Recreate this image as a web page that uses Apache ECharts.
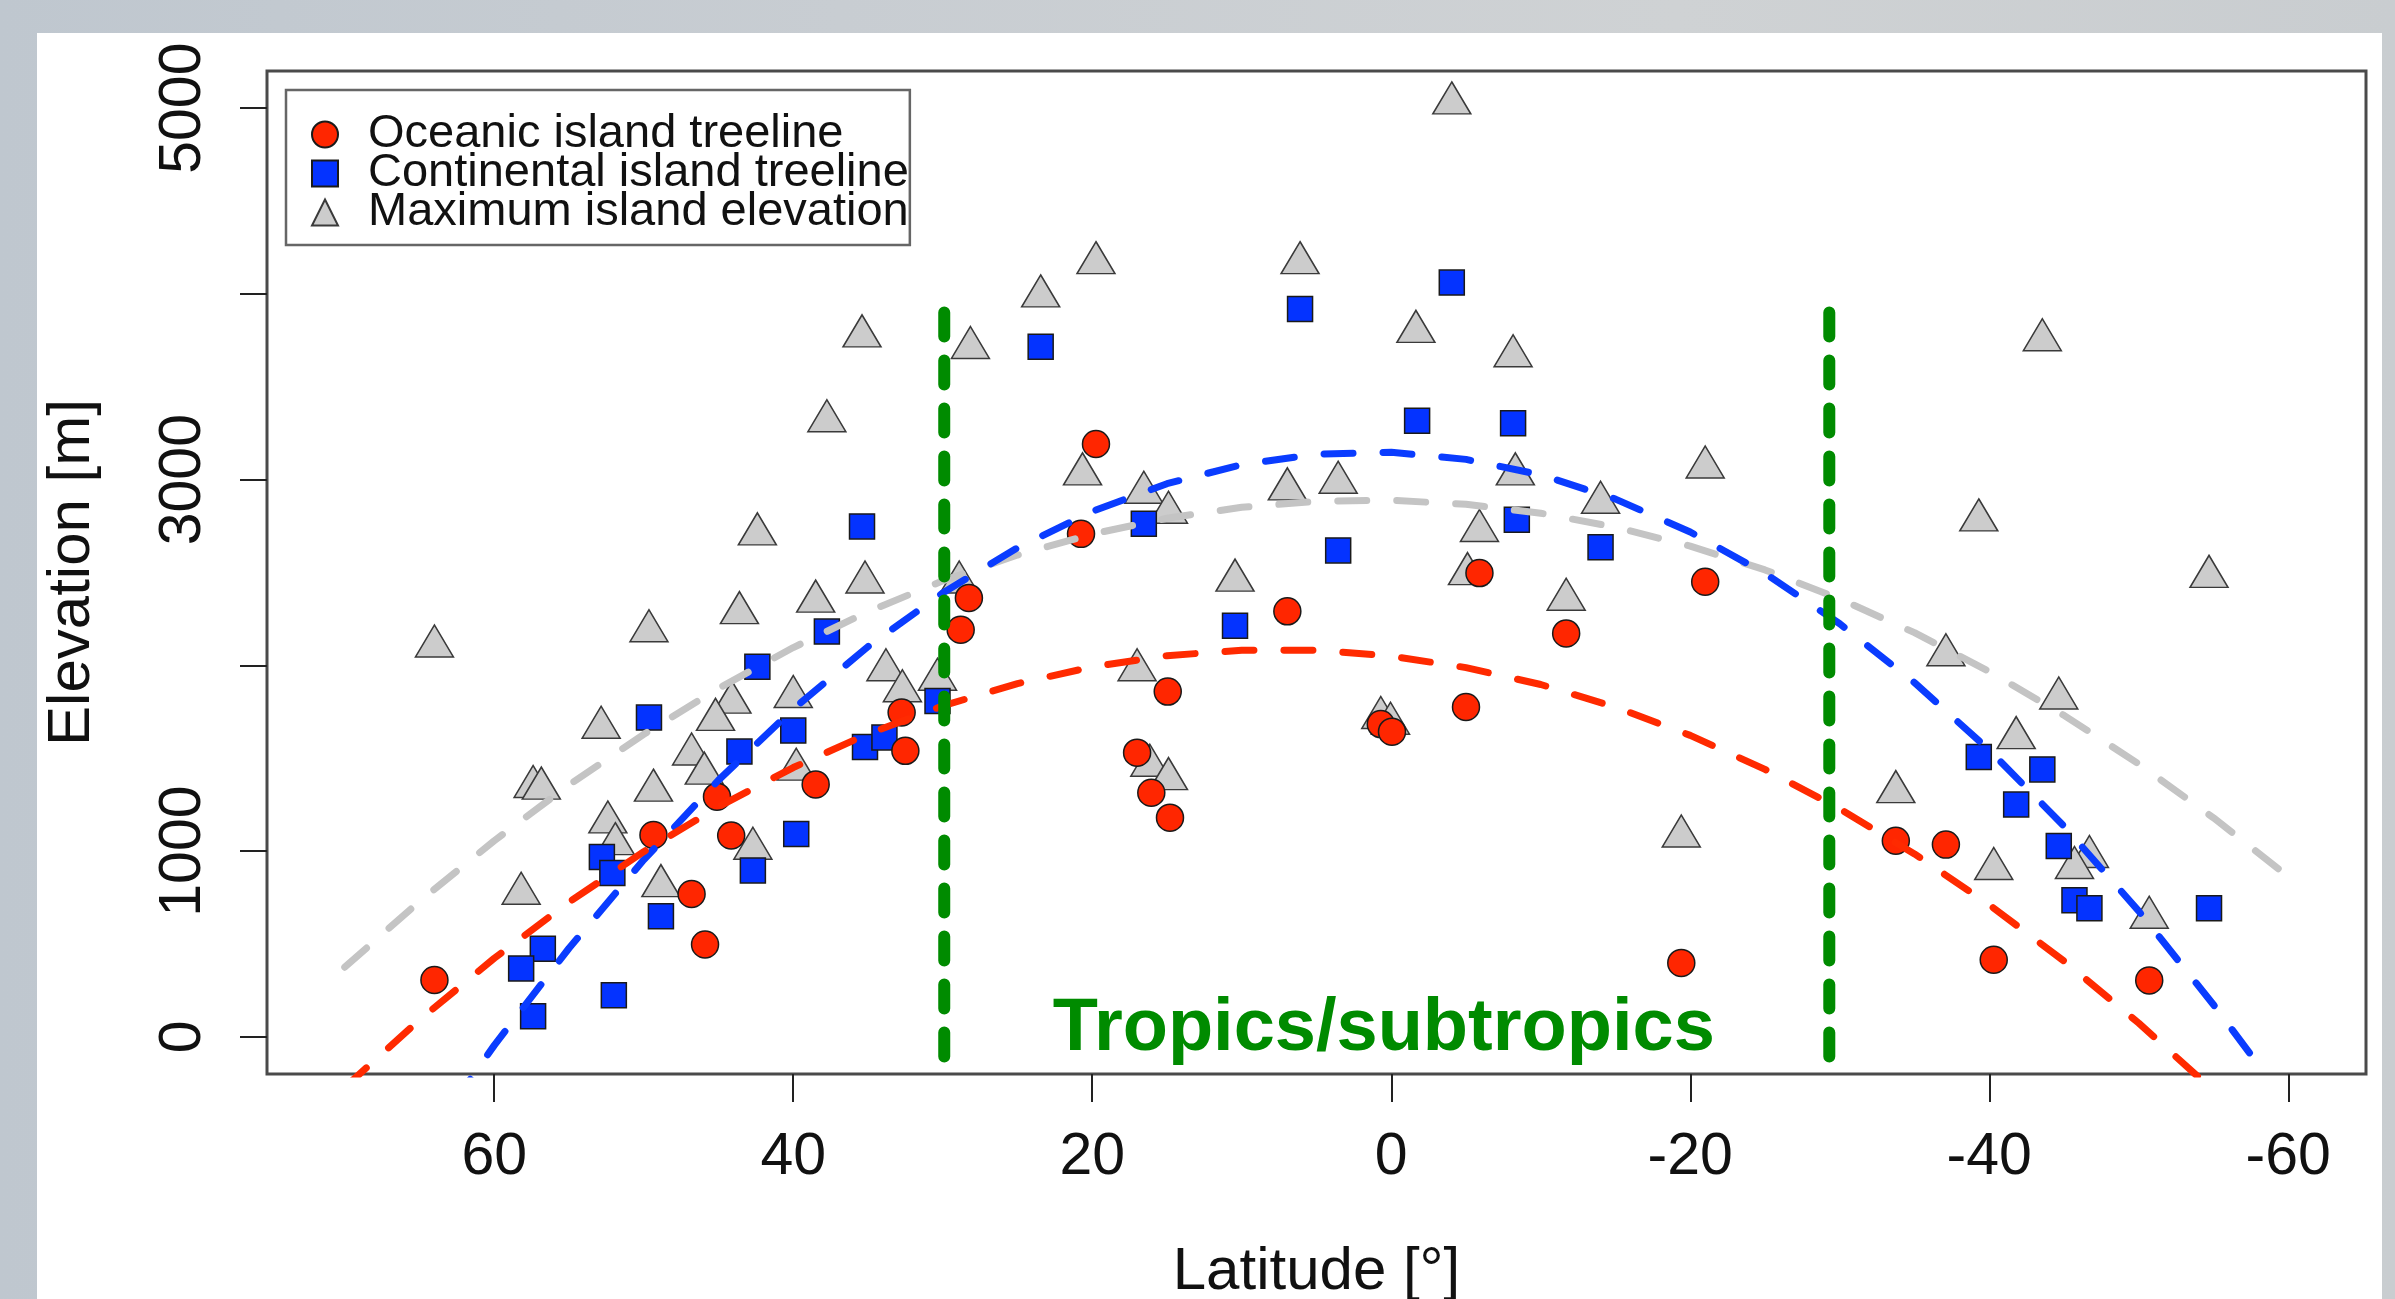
<!DOCTYPE html>
<html>
<head>
<meta charset="utf-8">
<title>Treeline elevation vs latitude</title>
<script src="https://cdn.jsdelivr.net/npm/echarts@6.0.0/dist/echarts.min.js"></script>
<style>
    html, body { margin: 0; padding: 0; width: 2395px; height: 1299px; overflow: hidden; }
    body { background: linear-gradient(to right, #bfc7cf 0%, #c8cdd2 35%, #cfd2d4 70%, #c9cdd0 100%); }
    #panel { position: absolute; left: 37px; top: 33px; width: 2345px; height: 1266px; background: #fff; }
    #main { position: absolute; left: 0; top: 0; width: 2395px; height: 1299px; }
</style>
</head>
<body>
<div id="panel"></div>
<div id="main"></div>
<script>
// data: [latitude, elevation]
var oceanic = [
    [64.0, 306], [32.75, 1746], [32.5, 1540], [38.5, 1359], [45.1, 1293], [49.35, 1087],
    [44.15, 1084], [46.8, 769], [45.9, 497], [28.25, 2363], [28.8, 2192], [20.75, 2708],
    [19.75, 3192], [6.95, 2291], [14.95, 1859], [17.0, 1530], [16.05, 1314], [14.8, 1180],
    [0.7, 1684], [-0.05, 1643], [-5.0, 1776], [-5.9, 2497], [-11.7, 2172], [-21.0, 2450],
    [-19.4, 398], [-33.75, 1056], [-37.1, 1035], [-40.3, 415], [-50.7, 304]
];
var continental = [
    [35.4, 2748], [37.75, 2182], [42.4, 1993], [49.65, 1719], [40.0, 1649], [43.6, 1536],
    [35.2, 1561], [33.9, 1612], [39.8, 1092], [52.8, 968], [52.1, 882], [42.7, 896],
    [48.85, 649], [56.75, 475], [58.2, 368], [57.4, 111], [52.0, 224], [30.35, 1808],
    [23.45, 3715], [6.1, 3918], [-4.05, 4061], [-1.73, 3317], [-8.15, 3303], [16.55, 2762],
    [-8.4, 2784], [-14.0, 2636], [3.55, 2619], [10.45, 2213], [-39.3, 1507], [-43.55, 1440],
    [-41.8, 1251], [-44.65, 1027], [-45.7, 735], [-46.7, 692], [-54.7, 692]
];
var maxElevation = [
    [64.0, 2131], [42.4, 2735], [35.2, 2476], [38.5, 2373], [43.6, 2311], [49.65, 2213],
    [52.85, 1694], [57.4, 1375], [56.85, 1366], [44.1, 1829], [45.2, 1736], [46.8, 1550],
    [45.95, 1447], [40.0, 1859], [39.8, 1468], [49.35, 1355], [42.7, 1042], [52.4, 1184],
    [51.9, 1067], [48.85, 841], [58.2, 800], [33.8, 2003], [32.7, 1890], [30.35, 1952],
    [35.4, 3801], [37.75, 3344], [-4.05, 5055], [19.75, 4195], [23.45, 4016], [28.15, 3738],
    [6.1, 4195], [-1.65, 3825], [-8.15, 3694], [20.65, 3058], [16.55, 2959], [14.9, 2851],
    [6.95, 2977], [3.55, 3013], [-8.3, 3058], [-14.0, 2905], [-5.9, 2753], [-21.0, 3095],
    [10.45, 2486], [-5.1, 2521], [-11.7, 2383], [28.9, 2476], [17.0, 2003], [16.15, 1489],
    [14.9, 1417], [0.7, 1746], [0.05, 1715], [-19.4, 1108], [-43.55, 3780], [-39.3, 2810],
    [-54.7, 2506], [-37.1, 2084], [-44.65, 1851], [-41.8, 1638], [-33.75, 1347], [-40.3, 933],
    [-46.7, 998], [-45.7, 939], [-50.7, 671]
];

// dashed fitted curves
var oceanicFit = [
    [70, -272], [65, 91], [60, 423], [55, 725], [50, 997], [45, 1239], [40, 1450], [35, 1631],
    [30, 1782], [25, 1902], [20, 1992], [15, 2052], [10, 2082], [5, 2081], [0, 2050], [-5, 1988],
    [-10, 1897], [-15, 1775], [-20, 1623], [-25, 1440], [-30, 1228], [-35, 985], [-40, 711],
    [-45, 408], [-50, 74], [-55, -290]
];
var continentalFit = [
    [65, -615], [60, -46], [55, 477], [50, 953], [45, 1382], [40, 1765], [35, 2101], [30, 2390],
    [25, 2633], [20, 2829], [15, 2978], [10, 3081], [5, 3137], [0, 3147], [-5, 3109], [-10, 3026],
    [-15, 2895], [-20, 2718], [-25, 2495], [-30, 2224], [-35, 1907], [-40, 1544], [-45, 1134],
    [-50, 677], [-55, 173], [-57.5, -96]
];
var maxFit = [
    [70, 375], [65, 729], [60, 1056], [55, 1356], [50, 1629], [45, 1876], [40, 2096], [35, 2289],
    [30, 2455], [25, 2594], [20, 2707], [15, 2792], [10, 2851], [5, 2883], [0, 2889], [-5, 2867],
    [-10, 2819], [-15, 2744], [-20, 2642], [-25, 2514], [-30, 2358], [-35, 2176], [-40, 1967],
    [-45, 1731], [-50, 1469], [-55, 1179], [-60, 863]
];

// tropics band limits and label
var tropicsLat = [29.9, -29.3];
var tropicsElev = [3900, -120];
var tropicsText = 'Tropics/subtropics';
var tropicsTextAt = [0.5, 40];

var xTicks = [60, 40, 20, 0, -20, -40, -60];
var yTicks = [0, 1000, 2000, 3000, 4000, 5000];
var yTickLabels = [0, 1000, 3000, 5000];

var names = ['Oceanic island treeline', 'Continental island treeline', 'Maximum island elevation'];

var FONT = '"Liberation Sans", Arial, Helvetica, sans-serif';
var GREEN = '#008b00';

var myChart = echarts.init(document.getElementById('main'));

function tropicLine(lat) {
    return {
        name: 'tropics ' + lat,
        type: 'line',
        data: [[lat, tropicsElev[0]], [lat, tropicsElev[1]]],
        symbol: 'none',
        silent: true,
        z: 6,
        lineStyle: {color: GREEN, width: 12, type: [24, 24], cap: 'round'}
    };
}

function fitLine(name, data, color) {
    return {
        name: name,
        type: 'line',
        data: data,
        symbol: 'none',
        silent: true,
        z: 5,
        lineStyle: {color: color, width: 7, type: [29, 30], cap: 'round'}
    };
}

function plainNumber(v) {
    return String(v);
}

var option = {
    animation: false,
    backgroundColor: 'transparent',
    grid: {
        left: 267,
        right: 29,
        top: 71,
        bottom: 225,
        outerBoundsMode: 'none',
        show: true,
        backgroundColor: '#fff',
        borderColor: '#4a4a4a',
        borderWidth: 3
    },
    legend: {
        data: names,
        orient: 'vertical',
        left: 286,
        top: 90,
        padding: [21, 1, 9, 25],
        itemGap: -8,
        itemWidth: 26,
        itemHeight: 26,
        borderColor: '#666',
        borderWidth: 2.5,
        backgroundColor: '#fff',
        textStyle: {fontFamily: FONT, fontSize: 47, color: '#111', padding: [0, 0, 0, 25]}
    },
    xAxis: {
        type: 'value',
        inverse: true,
        min: -65.2,
        max: 75.2,
        name: 'Latitude [°]',
        nameLocation: 'middle',
        nameGap: 168,
        nameTextStyle: {fontFamily: FONT, fontSize: 60, color: '#111'},
        axisLine: {show: false, onZero: false},
        axisTick: {show: true, length: 28, customValues: xTicks, lineStyle: {color: '#222', width: 2}},
        axisLabel: {customValues: xTicks, margin: 54, fontFamily: FONT, fontSize: 59, color: '#111', formatter: plainNumber},
        splitLine: {show: false}
    },
    yAxis: {
        type: 'value',
        min: -200,
        max: 5200,
        name: 'Elevation [m]',
        nameLocation: 'middle',
        nameGap: 165,
        nameTextStyle: {fontFamily: FONT, fontSize: 60, color: '#111'},
        axisLine: {show: false, onZero: false},
        axisTick: {show: true, length: 27, customValues: yTicks, lineStyle: {color: '#222', width: 2}},
        axisLabel: {customValues: yTickLabels, rotate: 90, margin: 54, fontFamily: FONT, fontSize: 59, color: '#111', formatter: plainNumber},
        splitLine: {show: false}
    },
    series: [
        {
            name: names[2],
            type: 'scatter',
            data: maxElevation,
            symbol: 'triangle',
            symbolSize: [38, 32],
            z: 2,
            itemStyle: {color: '#cccccc', borderColor: '#3a3a3a', borderWidth: 1.5, opacity: 1}
        },
        {
            name: names[1],
            type: 'scatter',
            data: continental,
            symbol: 'rect',
            symbolSize: 25,
            z: 3,
            itemStyle: {color: '#0433ff', borderColor: '#1a1a1a', borderWidth: 1.5, opacity: 1}
        },
        {
            name: names[0],
            type: 'scatter',
            data: oceanic,
            symbol: 'circle',
            symbolSize: 27,
            z: 4,
            itemStyle: {color: '#ff2600', borderColor: '#1a1a1a', borderWidth: 1.5, opacity: 1}
        },
        fitLine('max fit', maxFit, '#c4c4c4'),
        fitLine('continental fit', continentalFit, '#0a3cff'),
        fitLine('oceanic fit', oceanicFit, '#ff2a00'),
        tropicLine(tropicsLat[0]),
        tropicLine(tropicsLat[1])
    ]
};

myChart.setOption(option);

// label for the tropical band, placed through the chart's own coordinate system
var pos = myChart.convertToPixel({gridIndex: 0}, tropicsTextAt);
myChart.setOption({
    graphic: [{
        type: 'text',
        x: pos[0],
        y: pos[1],
        z: 10,
        style: {
            text: tropicsText,
            fill: GREEN,
            fontFamily: FONT,
            fontSize: 74,
            fontWeight: 'bold',
            align: 'center',
            verticalAlign: 'middle'
        }
    }]
});
</script>
</body>
</html>
